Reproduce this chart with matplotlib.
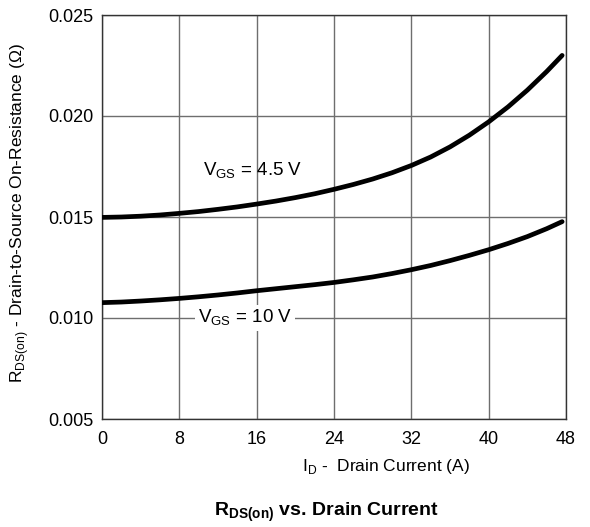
import matplotlib
matplotlib.use("Agg")
import matplotlib.pyplot as plt

plt.rcParams["font.family"] = ["Liberation Sans", "DejaVu Sans"]
plt.rcParams["mathtext.fontset"] = "custom"
plt.rcParams["mathtext.rm"] = "Liberation Sans"
plt.rcParams["mathtext.bf"] = "Liberation Sans:bold"

# Drain current (A) and on-resistance (ohm)
current = [0, 2, 4, 6, 8, 10, 12, 14, 16, 18, 20, 22, 24, 26, 28, 30,
           32, 34, 36, 38, 40, 42, 44, 46, 47.6]
r_vgs_45 = [0.01498, 0.01500, 0.01504, 0.01510, 0.01518, 0.01527, 0.01538,
            0.01550, 0.01564, 0.01579, 0.01596, 0.01615, 0.01637, 0.01661,
            0.01688, 0.01719, 0.01755, 0.01797, 0.01847, 0.01905, 0.01971,
            0.02045, 0.02128, 0.02220, 0.02300]
r_vgs_10 = [0.01076, 0.01079, 0.01084, 0.01090, 0.01097, 0.01105, 0.01114,
            0.01124, 0.01135, 0.01145, 0.01155, 0.01165, 0.01176, 0.01189,
            0.01203, 0.01220, 0.01239, 0.01260, 0.01284, 0.01310, 0.01338,
            0.01369, 0.01403, 0.01442, 0.01477]

x_ticks = [0, 8, 16, 24, 32, 40, 48]
y_ticks = [0.005, 0.010, 0.015, 0.020, 0.025]

fig = plt.figure(figsize=(5.9, 5.27), dpi=100)
ax = fig.add_axes([102 / 590, 1 - 419 / 527, 464 / 590, 404 / 527])

ax.plot(current, r_vgs_45, color="black", linewidth=3.4, solid_capstyle="round", zorder=3)
ax.plot(current, r_vgs_10, color="black", linewidth=3.4, solid_capstyle="round", zorder=3)

ax.set_xlim(0, 48)
ax.set_ylim(0.005, 0.025)
ax.set_xticks(x_ticks)
ax.set_yticks(y_ticks)
ax.set_xticklabels([str(v) for v in x_ticks])
ax.set_yticklabels(["%.3f" % v for v in y_ticks])
ax.tick_params(axis="x", length=0, labelsize=13, pad=9, colors="black")
ax.tick_params(axis="y", length=0, labelsize=13, pad=6, colors="black")
ax.grid(True, color="#6e6e6e", linewidth=1.0)
for s in ax.spines.values():
    s.set_color("#333333")
    s.set_linewidth(1.0)

ax.text(15.6, 0.0173, r"V$_\mathregular{GS}$ = 4.5 V", fontsize=13.5,
        ha="center", va="center", zorder=4)
ax.text(14.8, 0.0100, r"V$_\mathregular{GS}$ = 10 V", fontsize=13.5,
        ha="center", va="center", zorder=4,
        bbox=dict(facecolor="white", edgecolor="none", pad=2))

fig.text(20 / 590, 1 - 213 / 527,
         r"R$_\mathregular{DS(on)}$ - Drain-to-Source On-Resistance ($\Omega$)",
         rotation=90, fontsize=12.5, ha="center", va="center")
fig.text(386 / 590, 1 - 467 / 527, r"I$_\mathregular{D}$ -  Drain Current (A)",
         fontsize=12.5, ha="center", va="center")
fig.text(326 / 590, 1 - 512 / 527, r"R$_\mathbf{DS(on)}$ vs. Drain Current",
         fontsize=14, fontweight="bold", ha="center", va="center")

fig.savefig("out.png", dpi=100)
